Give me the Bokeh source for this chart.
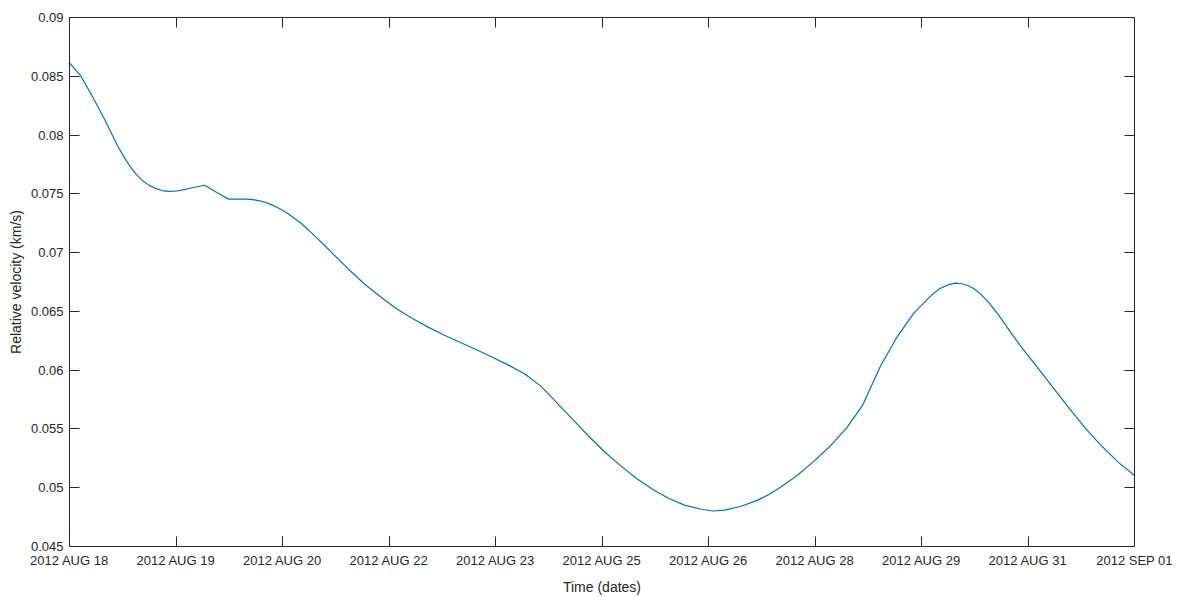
import numpy as np
from bokeh.plotting import figure
from bokeh.models import (LinearAxis, FixedTicker, CustomJSTickFormatter, Range1d,
                          CustomLabelingPolicy)
from bokeh.embed import file_html
from bokeh.resources import INLINE

# Elapsed time in days after 2012 AUG 18 00:00, and relative velocity in km/s
days = [0.000, 0.150, 0.313, 0.477, 0.654, 0.740, 0.831, 0.910, 0.994, 1.080,
        1.171, 1.260, 1.348, 1.430, 1.511, 1.675, 1.838, 2.001, 2.165, 2.328,
        2.410, 2.492, 2.575, 2.655, 2.740, 2.818, 2.900, 2.982, 3.060, 3.145,
        3.250, 3.363, 3.470, 3.581, 3.799, 4.016, 4.234, 4.452, 4.670, 4.888,
        5.106, 5.323, 5.541, 5.759, 5.977, 6.195, 6.426, 6.630, 6.848, 7.066,
        7.284, 7.502, 7.720, 7.937, 8.155, 8.373, 8.591, 8.755, 8.918, 9.136,
        9.354, 9.517, 9.680, 9.898, 10.130, 10.347, 10.579, 10.797, 11.042,
        11.273, 11.491, 11.722, 11.850, 11.980, 12.063, 12.150, 12.240, 12.320,
        12.403, 12.520, 12.635, 12.740, 12.853, 12.950, 13.043, 13.220, 13.424,
        13.628, 13.833, 14.037, 14.269, 14.500]
rel_velocity = [0.08614, 0.08505, 0.08328, 0.08135, 0.07909, 0.07815, 0.07728,
                0.07665, 0.07612, 0.07574, 0.07546, 0.07528, 0.07521, 0.07522,
                0.07530, 0.07552, 0.07573, 0.07514, 0.07455, 0.07455, 0.07455,
                0.07451, 0.07443, 0.07430, 0.07410, 0.07388, 0.07360, 0.07329,
                0.07293, 0.07254, 0.07195, 0.07128, 0.07063, 0.06993, 0.06859,
                0.06733, 0.06624, 0.06523, 0.06439, 0.06364, 0.06297, 0.06236,
                0.06174, 0.06110, 0.06043, 0.05970, 0.05860, 0.05726, 0.05583,
                0.05440, 0.05306, 0.05188, 0.05079, 0.04987, 0.04911, 0.04852,
                0.04819, 0.04802, 0.04810, 0.04840, 0.04890, 0.04940, 0.05005,
                0.05100, 0.05222, 0.05348, 0.05507, 0.05700, 0.06036, 0.06288,
                0.06481, 0.06630, 0.06695, 0.06730, 0.06741, 0.06735, 0.06718,
                0.06690, 0.06649, 0.06572, 0.06481, 0.06390, 0.06288, 0.06205,
                0.06130, 0.05990, 0.05825, 0.05662, 0.05505, 0.05365, 0.05222,
                0.05104]

date_labels = ["2012 AUG 18", "2012 AUG 19", "2012 AUG 20", "2012 AUG 22",
               "2012 AUG 23", "2012 AUG 25", "2012 AUG 26", "2012 AUG 28",
               "2012 AUG 29", "2012 AUG 31", "2012 SEP 01"]
span_days = 14.5
velocity_ticks = [0.045, 0.05, 0.055, 0.06, 0.065, 0.07, 0.075, 0.08, 0.085, 0.09]

AX = "#262626"
FONT = "Liberation Sans"

x_ticks = np.linspace(0, span_days, len(date_labels)).tolist()
x_fmt = CustomJSTickFormatter(
    args=dict(labels=date_labels, step=span_days / (len(date_labels) - 1)),
    code="return labels[Math.round(tick / step)];")
y_fmt = CustomJSTickFormatter(code="return String(Number(tick.toFixed(3)));")

p = figure(width=1183, height=597, output_backend="svg", toolbar_location=None,
           x_range=Range1d(0, span_days), y_range=Range1d(0.045, 0.09),
           x_axis_type=None, y_axis_type=None,
           min_border_left=69, min_border_right=49,
           min_border_top=17, min_border_bottom=44)
p.outline_line_color = None
p.background_fill_color = "white"
p.border_fill_color = "white"
p.xgrid.visible = False
p.ygrid.visible = False


def style(ax, show_labels):
    ax.axis_line_color = AX
    ax.axis_line_width = 1
    ax.major_tick_line_color = AX
    ax.major_tick_in = 10
    ax.major_tick_out = 0
    ax.minor_tick_line_color = None
    ax.major_label_text_font = FONT
    ax.major_label_text_color = AX
    ax.axis_label_text_font = FONT
    ax.axis_label_text_font_style = "normal"
    ax.axis_label_text_color = AX
    ax.axis_label_text_font_size = "14px"
    if show_labels:
        ax.major_label_text_font_size = "13px"
    else:
        # box edges: ticks only, no labels
        ax.major_label_text_font_size = "0px"
        ax.major_label_standoff = 0
        ax.major_label_policy = CustomLabelingPolicy(code="return [];")


xb = LinearAxis(ticker=FixedTicker(ticks=x_ticks), formatter=x_fmt,
                axis_label="Time (dates)")
style(xb, True)
xb.major_label_standoff = 6
xb.axis_label_standoff = 8
p.add_layout(xb, "below")

yl = LinearAxis(ticker=FixedTicker(ticks=velocity_ticks), formatter=y_fmt,
                axis_label="Relative velocity (km/s)")
style(yl, True)
yl.major_label_standoff = 6
yl.axis_label_standoff = 4
p.add_layout(yl, "left")

xt = LinearAxis(ticker=FixedTicker(ticks=x_ticks))
style(xt, False)
p.add_layout(xt, "above")

yr = LinearAxis(ticker=FixedTicker(ticks=velocity_ticks))
style(yr, False)
p.add_layout(yr, "right")

p.line(days, rel_velocity, line_color="#0072BD", line_width=1.2)

open("out.html", "w").write(file_html(p, INLINE))
